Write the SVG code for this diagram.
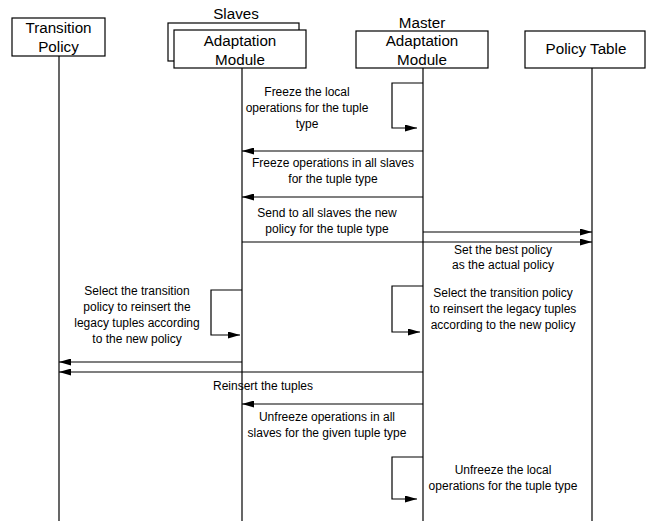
<svg xmlns="http://www.w3.org/2000/svg" width="646" height="521" viewBox="0 0 646 521">
<defs>
<style>
.box{fill:#fff;stroke:#000;stroke-width:1.2}
.hd{font-family:"Liberation Sans",Arial,sans-serif;font-size:15.2px;fill:#000;text-anchor:middle}
.msg{font-family:"Liberation Sans",Arial,sans-serif;font-size:12px;fill:#000;text-anchor:middle}
.ll{stroke:#000;stroke-width:1.2;fill:none}
.ar{stroke:#000;stroke-width:1.2;fill:none;marker-end:url(#ah)}
</style>
<marker id="ah" viewBox="0 0 12 7" refX="12" refY="3.5" markerWidth="12" markerHeight="7" markerUnits="userSpaceOnUse" orient="auto">
<path d="M0,0 L12,3.5 L0,7 z" fill="#000"/>
</marker>
</defs>
<rect width="646" height="521" fill="#fff"/>
<g id="lifelines">
<line class="ll" x1="59" y1="56" x2="59" y2="521"/>
<line class="ll" x1="242" y1="68" x2="242" y2="521"/>
<line class="ll" x1="423" y1="68" x2="423" y2="521"/>
<line class="ll" x1="592" y1="68" x2="592" y2="521"/>
</g>
<g id="transition-policy">
<rect class="box" x="12" y="18" width="93" height="38"/>
<text class="hd" x="58.5" y="33">Transition</text>
<text class="hd" x="58.5" y="52">Policy</text>
</g>
<g id="slaves">
<text class="hd" x="236" y="19">Slaves</text>
<rect class="box" x="168" y="23" width="131" height="38"/>
<rect class="box" x="174" y="30" width="132" height="38"/>
<text class="hd" x="240" y="46">Adaptation</text>
<text class="hd" x="240" y="65">Module</text>
</g>
<g id="master">
<text class="hd" x="422" y="28">Master</text>
<rect class="box" x="356" y="31" width="132" height="37"/>
<text class="hd" x="422" y="46">Adaptation</text>
<text class="hd" x="422" y="65">Module</text>
</g>
<g id="policy-table">
<rect class="box" x="525" y="31" width="120" height="37"/>
<text class="hd" x="586" y="54">Policy Table</text>
</g>
<g id="connectors">
<path class="ar" d="M423,83 H392 V128 H417"/>
<line class="ar" x1="423" y1="151" x2="242" y2="151"/>
<line class="ar" x1="423" y1="197" x2="242" y2="197"/>
<line class="ar" x1="423" y1="232" x2="592" y2="232"/>
<line class="ar" x1="242" y1="242" x2="592" y2="242"/>
<path class="ar" d="M242,290 H211 V335 H240"/>
<path class="ar" d="M423,286 H392 V332 H420"/>
<line class="ar" x1="242" y1="362" x2="59" y2="362"/>
<line class="ar" x1="423" y1="372" x2="59" y2="372"/>
<line class="ar" x1="423" y1="404" x2="242" y2="404"/>
<path class="ar" d="M423,457 H392 V499 H417"/>
</g>
<g id="labels">
<text class="msg" x="307" y="96">Freeze the local</text>
<text class="msg" x="307" y="112">operations for the tuple</text>
<text class="msg" x="307" y="128">type</text>
<text class="msg" x="333" y="167">Freeze operations in all slaves</text>
<text class="msg" x="333" y="183">for the tuple type</text>
<text class="msg" x="327" y="217">Send to all slaves the new</text>
<text class="msg" x="327" y="233">policy for the tuple type</text>
<text class="msg" x="503" y="254">Set the best policy</text>
<text class="msg" x="503" y="269">as the actual policy</text>
<text class="msg" x="137" y="295">Select the transition</text>
<text class="msg" x="137" y="311">policy to reinsert the</text>
<text class="msg" x="137" y="327">legacy tuples according</text>
<text class="msg" x="137" y="343">to the new policy</text>
<text class="msg" x="503" y="297">Select the transition policy</text>
<text class="msg" x="503" y="313">to reinsert the legacy tuples</text>
<text class="msg" x="503" y="329">according to the new policy</text>
<text class="msg" x="263" y="390">Reinsert the tuples</text>
<text class="msg" x="327" y="421">Unfreeze operations in all</text>
<text class="msg" x="327" y="437">slaves for the given tuple type</text>
<text class="msg" x="503" y="474">Unfreeze the local</text>
<text class="msg" x="503" y="490">operations for the tuple type</text>
</g>
</svg>
